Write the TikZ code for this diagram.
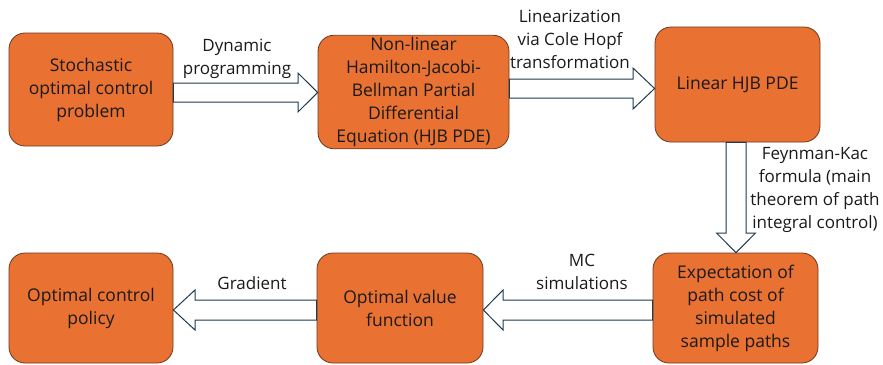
\documentclass[tikz,border=0pt]{standalone}
\usepackage{fontspec}
\setmainfont{Open Sans}
\usetikzlibrary{calc}
\definecolor{boxfill}{HTML}{E97132}
\definecolor{boxline}{HTML}{6A3A1E}
\definecolor{arrline}{HTML}{1E3A4E}
\definecolor{txt}{HTML}{1A1A1A}
\tikzset{
  stepbox/.style={draw=boxline, line width=0.8pt, fill=boxfill, rounded corners=16pt,
    align=center, text=txt, inner sep=2pt,
    font=\fontsize{17.5}{23}\selectfont},
  barrow/.style={draw=arrline, line width=1pt, fill=white, line join=miter},
  lbl/.style={align=center, text=txt, inner sep=0pt, font=\fontsize{17}{23}\selectfont}
}
\begin{document}
\begin{tikzpicture}[x=1pt,y=-1pt]
\useasboundingbox (0,0) rectangle (883,364);
% boxes
\node[stepbox, minimum width=164pt, minimum height=113pt] (s1) at (91,89.5) {Stochastic\\optimal control\\problem};
\node[stepbox, minimum width=191pt, minimum height=112pt] (s2) at (413.5,92) {Non-linear\\Hamilton-Jacobi-\\Bellman Partial\\Differential\\Equation (HJB PDE)};
\node[stepbox, minimum width=165pt, minimum height=115pt] (s3) at (737.5,84.5) {Linear HJB PDE};
\node[stepbox, minimum width=165pt, minimum height=110pt] (s4) at (735.5,308) {Expectation of\\path cost of\\simulated\\sample paths};
\node[stepbox, minimum width=166pt, minimum height=110pt] (s5) at (400,308) {Optimal value\\function};
\node[stepbox, minimum width=164pt, minimum height=110pt] (s6) at (91,308) {Optimal control\\policy};
% block arrows
\draw[barrow] (s1.east |- 0,83) -- (298,83) -- (298,73) -- (s2.west |- 0,92.5) -- (298,112) -- (298,102) -- (s1.east |- 0,102) -- cycle;
\draw[barrow] (s2.east |- 0,79) -- (633,79) -- (633,68) -- (s3.west |- 0,88.5) -- (633,109) -- (633,98) -- (s2.east |- 0,98) -- cycle;
\draw[barrow] (s3.south -| 726,0) -- (726,233) -- (716.5,233) -- (s4.north -| 736,0) -- (755.5,233) -- (746,233) -- (s3.south -| 746,0) -- cycle;
\draw[barrow] (s4.west |- 0,300) -- (503,300) -- (503,290) -- (s5.east |- 0,310) -- (503,330) -- (503,320) -- (s4.west |- 0,320) -- cycle;
\draw[barrow] (s5.west |- 0,300) -- (195,300) -- (195,290) -- (s6.east |- 0,310) -- (195,330) -- (195,320) -- (s5.west |- 0,320) -- cycle;
% labels
\node[lbl] (l1) at (237,58.5) {Dynamic\\programming};
\node[lbl] (l2) at (570,39) {Linearization\\via Cole Hopf\\transformation};
\node[lbl] (l3) at (815,190) {Feynman-Kac\\formula (main\\theorem of path\\integral control)};
\node[lbl] (l4) at (252,283) {Gradient};
\node[lbl] (l5) at (582,271.5) {MC\\simulations};
\end{tikzpicture}
\end{document}
